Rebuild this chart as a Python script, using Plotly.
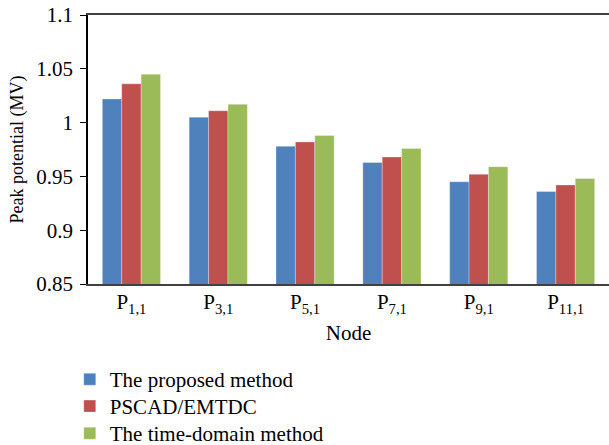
import plotly.graph_objects as go

nodes = ["P<sub>1,1</sub>", "P<sub>3,1</sub>", "P<sub>5,1</sub>", "P<sub>7,1</sub>", "P<sub>9,1</sub>", "P<sub>11,1</sub>"]
proposed = [1.022, 1.005, 0.978, 0.963, 0.945, 0.936]
pscad = [1.036, 1.011, 0.982, 0.968, 0.952, 0.942]
time_domain = [1.045, 1.017, 0.988, 0.976, 0.959, 0.948]
y_ticks = [0.85, 0.9, 0.95, 1.0, 1.05, 1.1]
y_tick_text = ["0.85", "0.9", "0.95", "1", "1.05", "1.1"]

series = [
    ("The proposed method", proposed, "#4F81BD"),
    ("PSCAD/EMTDC", pscad, "#C0504D"),
    ("The time-domain method", time_domain, "#9BBB59"),
]

FONT = "Liberation Serif"
legend_ids = ["legend", "legend2", "legend3"]
legend_y = [-0.279, -0.379, -0.480]

fig = go.Figure()
for (name, vals, color), lid in zip(series, legend_ids):
    fig.add_trace(go.Bar(
        x=nodes, y=vals, name=name, legend=lid,
        marker=dict(color=color, line=dict(color="rgba(255,255,255,0.6)", width=0.5)),
    ))

legend_common = dict(
    orientation="v", x=-0.035, xanchor="left", yanchor="top",
    font=dict(family=FONT, size=21, color="black"),
    bgcolor="rgba(0,0,0,0)",
)

fig.update_layout(
    width=609, height=445,
    margin=dict(l=88, r=0, t=15, b=161, autoexpand=False),
    paper_bgcolor="white", plot_bgcolor="white",
    font=dict(family=FONT, size=21, color="black"),
    barmode="group", bargap=0.33, bargroupgap=0,
    showlegend=True,
    legend=dict(y=legend_y[0], **legend_common),
    legend2=dict(y=legend_y[1], **legend_common),
    legend3=dict(y=legend_y[2], **legend_common),
    xaxis=dict(
        title=dict(text="Node", font=dict(family=FONT, size=21), standoff=10),
        showline=True, linecolor="#404040", linewidth=2, mirror=True,
        ticks="", showgrid=False, tickfont=dict(family=FONT, size=21),
        ticklabelstandoff=-2,
        automargin=False,
    ),
    yaxis=dict(
        title=dict(text="Peak potential (MV)", font=dict(family=FONT, size=18), standoff=8),
        range=[0.85, 1.1], tickvals=y_ticks, ticktext=y_tick_text,
        showline=True, linecolor="black", linewidth=1.5,
        ticks="outside", ticklen=6, tickcolor="black", tickwidth=1,
        ticklabelstandoff=3,
        showgrid=False, zeroline=False, tickfont=dict(family=FONT, size=21),
        automargin=False,
    ),
)

fig.write_html(
    "out.html",
    config={"displayModeBar": False},
    post_script="document.body.style.margin='0px';",
)
